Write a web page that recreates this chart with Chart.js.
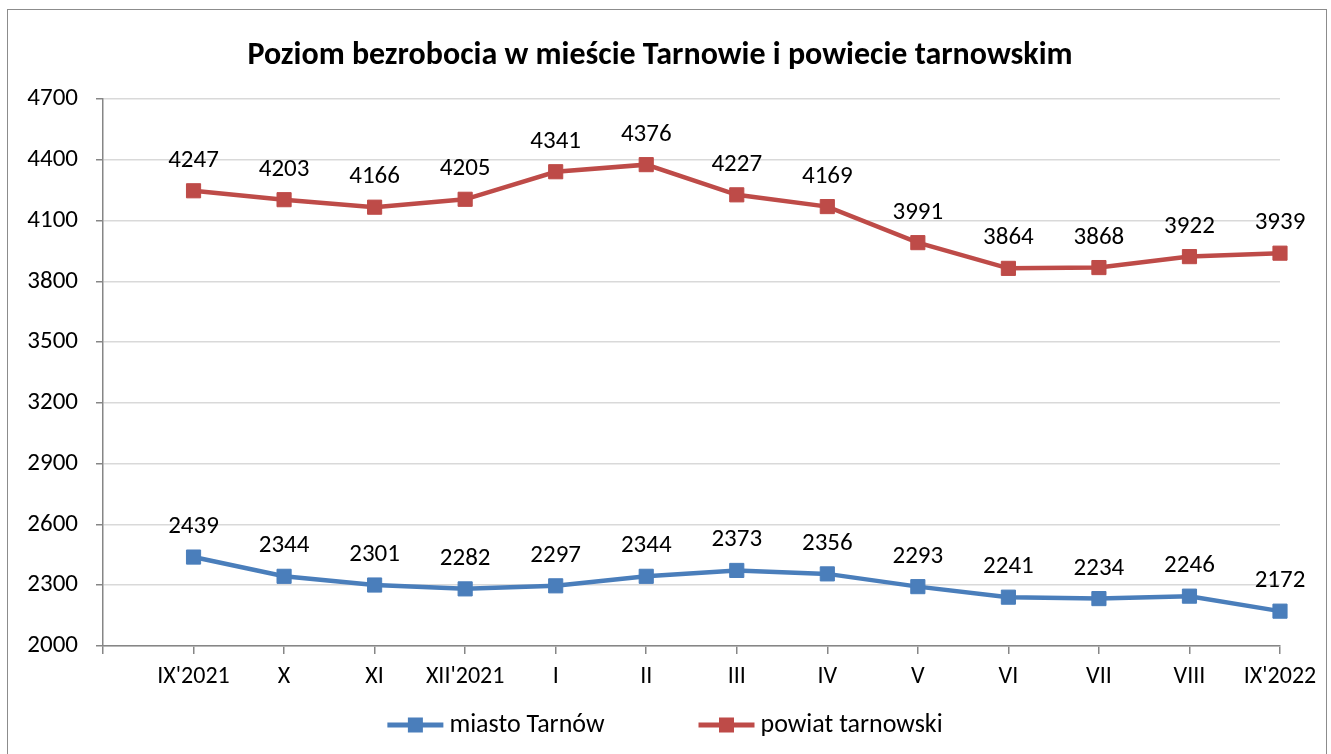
<!DOCTYPE html>
<html>
<head>
<meta charset="utf-8">
<script src="https://cdn.jsdelivr.net/npm/chart.js@4"></script>
<style>
  html, body { margin: 0; padding: 0; background: #fff; }
  #wrap { position: relative; width: 1331px; height: 754px; overflow: hidden; }
  #frame { position: absolute; left: 7px; top: 9px; width: 1320px; height: 780px; border: 1.5px solid #8c8c8c; box-sizing: border-box; }
  canvas { position: absolute; left: 0; top: 0; }
</style>
</head>
<body>
<div id="wrap">
  <div id="frame"></div>
  <canvas id="lineChart" width="1331" height="754"></canvas>
</div>
<script>
const FONT = 'Carlito, Calibri, Lato, "Open Sans", sans-serif';

const chartTitle = 'Poziom bezrobocia w mieście Tarnowie i powiecie tarnowskim';
// first empty slot keeps the gap Excel leaves before the first month
const months = ['', "IX'2021", 'X', 'XI', "XII'2021", 'I', 'II', 'III', 'IV', 'V', 'VI', 'VII', 'VIII', "IX'2022"];
const miastoTarnow = [null, 2439, 2344, 2301, 2282, 2297, 2344, 2373, 2356, 2293, 2241, 2234, 2246, 2172];
const powiatTarnowski = [null, 4247, 4203, 4166, 4205, 4341, 4376, 4227, 4169, 3991, 3864, 3868, 3922, 3939];
const yTicks = { min: 2000, max: 4700, step: 300 };

const blue = '#4a7ebb';
const red = '#be4b48';

// value labels above each point + title + legend with line/marker
const decorations = {
  id: 'decorations',
  afterDatasetsDraw(chart) {
    const ctx = chart.ctx;
    ctx.save();
    ctx.fillStyle = '#000';
    ctx.font = '25px ' + FONT;
    ctx.textAlign = 'center';
    ctx.textBaseline = 'alphabetic';
    chart.data.datasets.forEach((ds, i) => {
      chart.getDatasetMeta(i).data.forEach((pt, j) => {
        if (ds.data[j] == null) return;
        ctx.fillText(String(ds.data[j]), pt.x, pt.y - 24);
      });
    });
    ctx.restore();
  },
  afterDraw(chart) {
    const ctx = chart.ctx;
    ctx.save();
    ctx.fillStyle = '#000';
    ctx.font = 'bold 32px ' + FONT;
    ctx.textAlign = 'center';
    ctx.textBaseline = 'middle';
    ctx.fillText(chartTitle, 660, 56);

    // legend
    ctx.font = '26px ' + FONT;
    ctx.textAlign = 'left';
    const lineLen = 56, gapText = 6, gapItems = 94, ly = 725;
    const items = chart.data.datasets.map(ds => ({ ds, w: ctx.measureText(ds.label).width }));
    const total = items.reduce((s, it) => s + lineLen + gapText + it.w, 0) + gapItems * (items.length - 1);
    let x = 665 - total / 2;
    items.forEach(it => {
      ctx.strokeStyle = it.ds.borderColor;
      ctx.lineWidth = 5;
      ctx.beginPath();
      ctx.moveTo(x, ly);
      ctx.lineTo(x + lineLen, ly);
      ctx.stroke();
      ctx.fillStyle = it.ds.borderColor;
      ctx.fillRect(x + lineLen / 2 - 7.5, ly - 7.5, 15, 15);
      ctx.fillStyle = '#000';
      ctx.fillText(it.ds.label, x + lineLen + gapText, ly);
      x += lineLen + gapText + it.w + gapItems;
    });
    ctx.restore();
  }
};

new Chart(document.getElementById('lineChart').getContext('2d'), {
  type: 'line',
  data: {
    labels: months,
    datasets: [
      {
        label: 'miasto Tarnów',
        data: miastoTarnow,
        borderColor: blue,
        backgroundColor: blue,
        borderWidth: 4.5,
        pointStyle: 'rect',
        pointRadius: 10,
        pointBorderWidth: 1,
        fill: false,
        tension: 0,
      },
      {
        label: 'powiat tarnowski',
        data: powiatTarnowski,
        borderColor: red,
        backgroundColor: red,
        borderWidth: 4.5,
        pointStyle: 'rect',
        pointRadius: 10,
        pointBorderWidth: 1,
        fill: false,
        tension: 0,
      },
    ],
  },
  options: {
    responsive: false,
    animation: false,
    layout: { padding: { top: 99, right: 51, bottom: 0, left: 0 } },
    plugins: {
      legend: { display: false },
      title: { display: false },
      tooltip: { enabled: false },
    },
    scales: {
      x: {
        type: 'category',
        offset: false,
        grid: { drawOnChartArea: false, tickLength: 8, tickColor: '#868686', lineWidth: 1.5 },
        border: { color: '#868686', width: 1.5 },
        ticks: { color: '#000', font: { size: 24, family: FONT }, maxRotation: 0, autoSkip: false, padding: 9 },
        afterFit(scale) { scale.height = 108; },
      },
      y: {
        min: yTicks.min,
        max: yTicks.max,
        grid: { color: '#d9d9d9', lineWidth: 1.5, tickLength: 7, tickColor: '#868686' },
        border: { color: '#868686', width: 1.5 },
        ticks: {
          stepSize: yTicks.step,
          color: '#000',
          font: { size: 25, family: FONT },
          padding: 18,
          callback: v => String(v),
        },
        afterFit(scale) { scale.width = 103; },
      },
    },
  },
  plugins: [decorations],
});
</script>
</body>
</html>
